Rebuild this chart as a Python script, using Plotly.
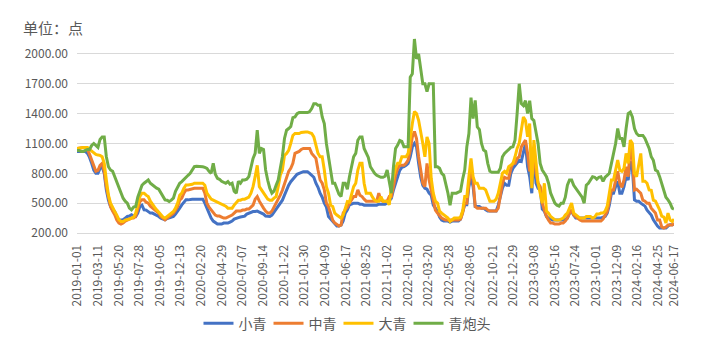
import pandas as pd
import plotly.graph_objects as go

# weekly sample dates, plus the final day
dates = list(pd.date_range("2019-01-01", periods=285, freq="7D").strftime("%Y-%m-%d")) + ["2024-06-17"]

qing_pao_tou = [
    1030,1030,1020,1020,1030,1040,1040,1080,1100,1080,1060,1140,1165,1165,966,866,833,820,766,700,
    666,600,550,520,500,450,433,460,466,560,633,680,700,720,733,700,683,660,650,640,
    600,560,533,530,516,530,550,620,666,700,716,740,766,
    780,800,840,866,870,870,866,866,860,850,820,800,900,790,750,740,720,710,700,716,
    690,700,620,600,720,700,733,733,740,766,850,950,1000,1233,1000,1050,1040,833,730,650,
    600,620,680,733,850,966,1150,1233,1250,1270,1360,
    1366,1400,1410,1410,1410,1410,1410,1420,1450,1500,1500,1483,1483,1366,1300,1100,950,800,700,700,
    633,590,566,700,700,640,766,880,966,1000,1133,1166,1166,1050,1000,960,866,830,800,780,
    766,760,760,770,833,700,600,866,
    1050,1083,1130,1120,1066,1066,1066,1766,1800,2150,1950,2000,1850,1700,1700,1620,1700,1700,1700,866,
    866,850,800,780,700,600,480,600,600,600,610,620,740,833,1066,1200,1560,1350,1533,1266,
    1240,1100,1033,1020,900,820,810,810,810,810,
    850,966,1000,1020,1030,1060,1066,1133,1400,1700,1500,1480,1530,1400,1530,1350,1330,1200,1100,900,
    833,800,766,700,600,550,500,480,470,500,500,560,680,733,733,680,650,633,600,560,
    500,680,700,733,766,760,740,760,766,720,
    760,780,800,900,1000,1100,1250,1150,1150,1066,1250,1400,1416,1366,1250,1200,1180,1180,1180,1150,
    1100,1050,966,930,833,820,766,700,650,560,533,500,450,440]

da_qing = [
    1050,1055,1060,1060,1060,1060,1040,1020,1000,990,983,980,966,900,733,580,500,450,416,380,
    333,316,316,330,333,340,350,360,400,500,566,600,600,580,566,520,483,460,433,410,
    383,360,350,366,383,400,416,450,500,580,600,650,683,
    683,683,690,700,700,700,700,700,680,600,570,540,530,520,510,500,490,480,470,450,
    450,450,480,500,530,530,540,540,550,560,600,666,766,880,666,633,600,560,540,530,
    530,550,566,666,780,833,980,1000,1030,1100,1180,
    1200,1200,1200,1210,1216,1216,1216,1210,1200,1166,1083,1000,966,966,833,666,600,480,466,400,
    380,360,350,380,450,516,510,600,666,700,833,900,900,700,600,600,600,560,530,520,
    520,566,520,520,520,483,666,766,
    850,900,900,966,966,966,1000,1166,1300,1420,1400,1333,1233,1100,966,1166,1100,750,600,520,
    500,420,400,380,366,350,316,330,350,350,350,360,420,566,566,766,950,766,700,700,
    650,650,650,633,566,520,520,520,540,600,
    700,800,820,800,866,880,900,966,1050,1100,1250,1366,1330,1166,1300,650,1133,900,700,600,
    500,700,420,400,366,350,333,330,330,340,350,380,400,450,500,400,380,366,350,350,
    350,366,366,366,350,360,390,390,400,400,
    420,470,600,733,733,833,933,830,820,850,1000,900,1133,1100,800,766,866,1000,720,720,
    700,633,630,530,520,480,433,370,360,300,400,330,316,340]

zhong_qing = [
    1050,1055,1060,1060,1060,1040,990,930,866,820,830,880,900,820,666,560,466,420,383,330,
    300,290,300,320,333,340,350,350,366,450,516,533,533,510,500,470,450,430,416,400,
    366,350,333,350,366,380,400,430,466,530,550,600,633,
    633,640,645,650,650,650,650,650,600,500,460,430,400,380,370,370,360,350,350,360,
    370,380,400,420,420,420,430,430,440,440,460,480,540,566,520,480,450,420,400,400,
    420,460,500,533,580,630,700,766,820,850,900,
    1000,1010,1020,1040,1050,1050,1050,1050,1000,980,950,833,733,700,633,500,466,400,330,300,
    280,270,280,400,433,460,500,533,566,566,633,580,566,540,520,520,520,520,520,520,
    600,530,520,520,520,566,566,666,
    780,850,880,880,880,900,933,1033,1166,1220,1150,966,850,700,666,900,733,633,500,430,
    400,370,350,340,330,330,330,330,330,330,330,340,400,500,500,700,833,733,466,450,
    450,450,450,450,430,420,420,420,420,450,
    600,700,760,750,750,850,900,900,950,966,1066,1100,1133,1000,820,900,1066,800,700,666,
    500,430,366,330,300,300,290,290,290,300,300,320,350,400,433,380,360,340,330,320,
    320,320,320,320,320,320,320,320,320,340,
    380,416,520,633,633,733,820,700,660,733,866,766,1066,966,633,640,620,600,530,520,
    500,500,450,430,400,330,330,260,250,260,280,280,280,300]

xiao_qing = [
    1020,1020,1020,1020,1020,1000,960,900,833,800,800,850,866,800,633,530,466,430,416,360,
    333,330,333,350,366,370,383,370,366,400,466,480,433,430,416,400,400,390,383,366,
    350,340,333,345,350,360,366,390,416,450,483,510,533,
    533,540,540,540,540,540,540,540,500,450,400,350,320,300,290,290,290,300,300,300,
    310,320,340,350,355,360,365,370,390,400,410,416,416,420,410,400,390,370,366,366,
    380,410,440,466,500,530,580,633,680,716,740,
    766,790,800,810,816,816,816,800,780,760,700,660,600,560,500,460,366,340,316,290,
    270,270,280,320,400,433,483,490,500,500,500,490,490,480,480,480,480,480,480,480,
    490,490,490,490,500,520,550,633,
    700,760,830,860,866,880,900,966,1066,1100,1066,900,760,680,650,640,600,580,480,450,
    420,360,330,320,320,320,310,320,320,320,320,340,400,483,483,666,760,666,466,466,
    466,450,450,433,420,420,420,420,420,480,
    560,650,700,680,680,800,850,880,900,930,920,1000,1100,866,766,600,1000,700,650,650,
    440,420,366,350,340,330,330,330,330,330,330,340,350,400,416,380,350,350,350,350,
    350,350,350,350,350,350,350,350,350,360,
    366,400,480,600,600,666,720,600,600,666,766,733,920,850,533,520,520,500,480,470,
    430,400,380,333,300,270,250,250,250,250,270,283,283,290]

tick_labels = ["2019-01-01","2019-03-11","2019-05-20","2019-07-28","2019-10-05","2019-12-13",
               "2020-02-20","2020-04-29","2020-07-07","2020-09-14","2020-11-22","2021-01-30",
               "2021-04-09","2021-06-17","2021-08-25","2021-11-02","2022-01-10","2022-03-20",
               "2022-05-28","2022-08-05","2022-10-21","2022-12-29","2023-03-08","2023-05-16",
               "2023-07-24","2023-10-01","2023-12-09","2024-02-16","2024-04-25","2024-06-17"]

series_names = ["小青", "中青", "大青", "青炮头"]
series_values = [xiao_qing, zhong_qing, da_qing, qing_pao_tou]
series_colors = ["#4472C4", "#ED7D31", "#FFC000", "#70AD47"]
legend_ids = ["legend", "legend2", "legend3", "legend4"]
legend_x = [0.2035, 0.3208, 0.4380, 0.5553]

for vals in series_values:
    assert len(vals) == len(dates), (len(vals), len(dates))

FONT = "Noto Sans CJK SC"
GREY = "#595959"

fig = go.Figure()
for name, vals, color, lg in zip(series_names, series_values, series_colors, legend_ids):
    fig.add_trace(go.Scatter(x=dates, y=vals, name=name, mode="lines", legend=lg,
                             line=dict(color=color, width=3)))

legend_style = dict(orientation="h", xanchor="left", y=-0.455, yanchor="middle",
                    font=dict(size=14, family=FONT, color=GREY),
                    bgcolor="rgba(0,0,0,0)")

# page body has an 8px margin, so the figure is 700x347 and margins are offset
fig.update_layout(
    width=700, height=347,
    margin=dict(l=69, r=34, t=26, b=122),
    paper_bgcolor="white", plot_bgcolor="white",
    font=dict(family=FONT, color=GREY, size=12),
    showlegend=True,
    annotations=[dict(text="单位：点", xref="paper", yref="paper", x=-0.093, y=1.033,
                      xanchor="left", yanchor="middle", showarrow=False,
                      font=dict(size=15, family=FONT, color=GREY))],
)
for lg, lx in zip(legend_ids, legend_x):
    fig.update_layout({lg: dict(legend_style, x=lx)})

fig.update_xaxes(type="date", range=["2019-01-01", "2024-06-17"],
                 tickmode="array", tickvals=tick_labels, ticktext=tick_labels,
                 tickangle=-90, showgrid=False, showline=True, linecolor="#D9D9D9",
                 linewidth=1, ticks="", ticklabelstandoff=6,
                 tickfont=dict(size=12, family=FONT, color=GREY), zeroline=False)
fig.update_yaxes(range=[200, 2200], tick0=200, dtick=300, tickformat=".2f",
                 showgrid=True, gridcolor="#D9D9D9", gridwidth=1, showline=False,
                 zeroline=False, ticks="", ticklabelstandoff=8,
                 tickfont=dict(size=12, family=FONT, color=GREY))

fig.write_html("out.html")
